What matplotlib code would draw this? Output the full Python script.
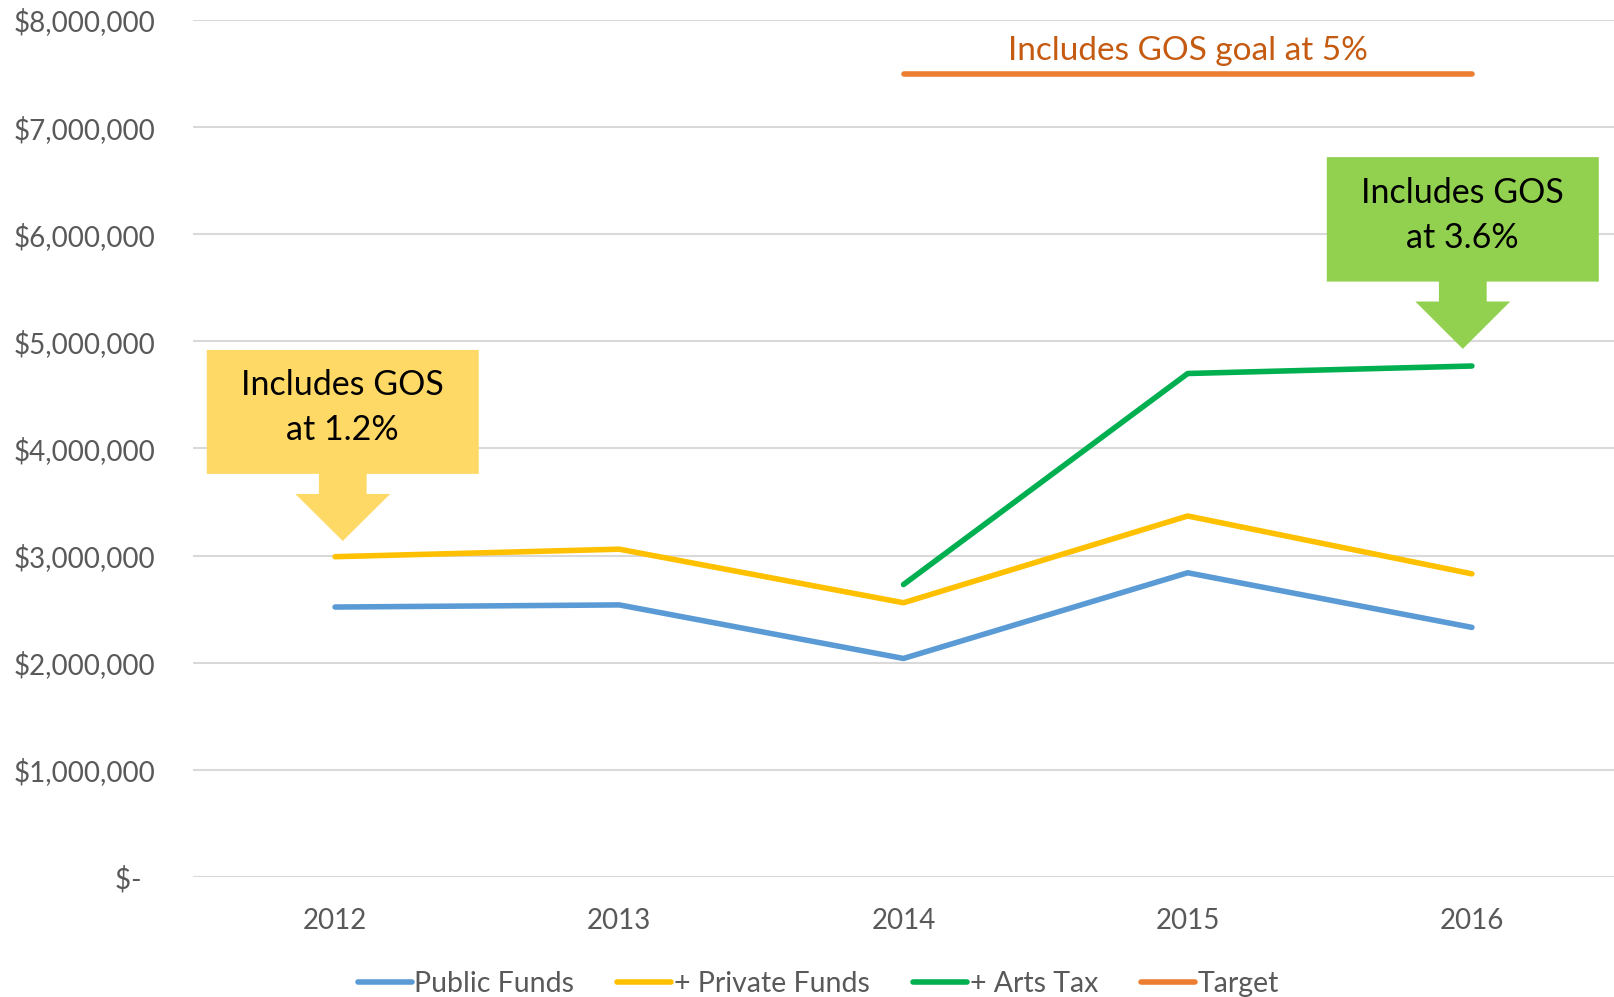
import matplotlib
matplotlib.use("Agg")
import matplotlib.pyplot as plt
from matplotlib.patches import Polygon

plt.rcParams['font.family'] = ['Lato', 'DejaVu Sans']

# -- datos --
anios = ['2012', '2013', '2014', '2015', '2016']
public_funds = [2.52e6, 2.54e6, 2.04e6, 2.84e6, 2.33e6]
private_funds = [2.99e6, 3.06e6, 2.56e6, 3.37e6, 2.83e6]
arts_tax = [None, None, 2.73e6, 4.70e6, 4.77e6]
target = [None, None, 7.5e6, 7.5e6, 7.5e6]
y_ticks = [0, 1e6, 2e6, 3e6, 4e6, 5e6, 6e6, 7e6, 8e6]

gris = '#595959'


def serie(valores):
    xs = [i for i, v in enumerate(valores) if v is not None]
    ys = [v for v in valores if v is not None]
    return xs, ys


def etiqueta_dinero(v):
    if v == 0:
        return '$-  '
    return '${:,.0f}'.format(v)


# Flecha tipo "callout" de Excel: caja con flecha hacia abajo
def callout(ax, xc, top, bottom, half_w, stem_bottom, stem_hw, head_hw, tip, color, texto):
    verts = [
        (xc - half_w, top), (xc + half_w, top), (xc + half_w, bottom),
        (xc + stem_hw, bottom), (xc + stem_hw, stem_bottom), (xc + head_hw, stem_bottom),
        (xc, tip), (xc - head_hw, stem_bottom), (xc - stem_hw, stem_bottom),
        (xc - stem_hw, bottom), (xc - half_w, bottom),
    ]
    ax.add_patch(Polygon(verts, closed=True, facecolor=color, edgecolor='none', zorder=4))
    ax.text(xc, (top + bottom) / 2 + 0.04e6, texto, ha='center', va='center', fontsize=24.5,
            color='black', linespacing=1.5, zorder=5)


fig = plt.figure(figsize=(16.14, 9.97), dpi=100)
ax = fig.add_axes([193 / 1614, 1 - 877 / 997, 1 - 193 / 1614, (877 - 20) / 997])

x = list(range(len(anios)))
lw = 4.0
l1, = ax.plot(x, public_funds, color='#5B9BD5', lw=lw, solid_capstyle='round', label='Public Funds', zorder=3)
l2, = ax.plot(x, private_funds, color='#FFC000', lw=lw, solid_capstyle='round', label='+ Private Funds', zorder=3)
xs, ys = serie(arts_tax)
l3, = ax.plot(xs, ys, color='#00B050', lw=lw, solid_capstyle='round', label='+ Arts Tax', zorder=3)
xs, ys = serie(target)
l4, = ax.plot(xs, ys, color='#ED7D31', lw=lw, solid_capstyle='round', label='Target', zorder=3)

ax.text(3.0, 7.71e6, 'Includes GOS goal at 5%', ha='center', va='center',
        fontsize=24, color='#C55A11')

callout(ax, 0.027, 4.92e6, 3.763e6, 0.4785, 3.576e6, 0.084, 0.167, 3.137e6,
        '#FFD966', 'Includes GOS\nat 1.2%')
callout(ax, 3.968, 6.72e6, 5.558e6, 0.4785, 5.372e6, 0.084, 0.167, 4.93e6,
        '#92D050', 'Includes GOS\nat 3.6%')

ax.set_xlim(-0.5, 4.5)
ax.set_ylim(0, 8e6)
ax.set_xticks(x)
ax.set_xticklabels(anios)
ax.set_yticks(y_ticks)
ax.set_yticklabels([etiqueta_dinero(v) for v in y_ticks])
ax.tick_params(axis='both', length=0, labelsize=20, labelcolor=gris)
ax.tick_params(axis='y', pad=27)
ax.tick_params(axis='x', pad=22)
ax.grid(axis='y', color='#D9D9D9', lw=1.5)
ax.set_axisbelow(True)
for s in ax.spines.values():
    s.set_visible(False)

fig.legend(handles=[l1, l2, l3, l4], loc='center', bbox_to_anchor=(0.507, 0.013),
           ncol=4, frameon=False, fontsize=20.5, labelcolor=gris, handlelength=1.9,
           handletextpad=0.1, columnspacing=1.5)

fig.savefig('out.png', dpi=100)
